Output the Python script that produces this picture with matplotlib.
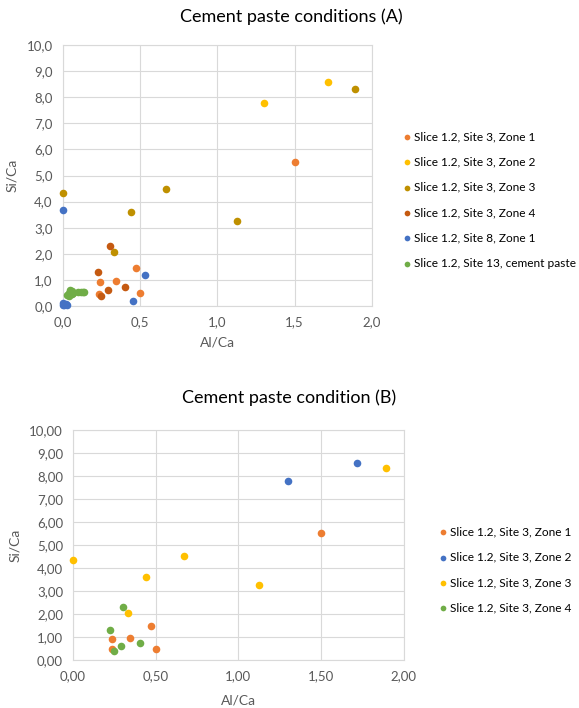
import matplotlib.pyplot as plt
from matplotlib.ticker import FuncFormatter, MultipleLocator

plt.rcParams['font.family'] = ['Lato', 'DejaVu Sans']

# Slice 1.2, Site 3, Zone 1..4
zone1_al = [1.50, 0.475, 0.24, 0.345, 0.235, 0.50]
zone1_si = [5.50, 1.47, 0.92, 0.95, 0.46, 0.49]
zone2_al = [1.30, 1.715]
zone2_si = [7.79, 8.57]
zone3_al = [0.0, 0.67, 0.445, 1.125, 0.335, 1.89]
zone3_si = [4.34, 4.50, 3.62, 3.24, 2.06, 8.33]
zone4_al = [0.306, 0.226, 0.293, 0.406, 0.25]
zone4_si = [2.31, 1.32, 0.61, 0.73, 0.37]
# Slice 1.2, Site 8, Zone 1
site8_al = [0.0, 0.531, 0.454, 0.0, 0.005, 0.012, 0.03, 0.02]
site8_si = [3.67, 1.17, 0.19, 0.10, 0.05, 0.03, 0.02, 0.06]
# Slice 1.2, Site 13, cement paste
site13_al = [0.03, 0.04, 0.05, 0.05, 0.06, 0.07, 0.06, 0.10, 0.12, 0.13, 0.14, 0.045]
site13_si = [0.42, 0.48, 0.55, 0.62, 0.58, 0.50, 0.45, 0.52, 0.55, 0.53, 0.54, 0.40]

labels_a = ['Slice 1.2, Site 3, Zone 1', 'Slice 1.2, Site 3, Zone 2', 'Slice 1.2, Site 3, Zone 3',
            'Slice 1.2, Site 3, Zone 4', 'Slice 1.2, Site 8, Zone 1', 'Slice 1.2, Site 13, cement paste']
colors_a = ['#ED7D31', '#FFC000', '#BF9000', '#C55A11', '#4472C4', '#70AD47']
labels_b = labels_a[:4]
colors_b = ['#ED7D31', '#4472C4', '#FFC000', '#70AD47']

series_a = [(zone1_al, zone1_si), (zone2_al, zone2_si), (zone3_al, zone3_si),
            (zone4_al, zone4_si), (site8_al, site8_si), (site13_al, site13_si)]
series_b = series_a[:4]

fig = plt.figure(figsize=(5.79, 7.08), dpi=100)


def style(ax, decimals):
    ax.set_xlim(0, 2)
    ax.set_ylim(0, 10)
    ax.xaxis.set_major_locator(MultipleLocator(0.5))
    ax.yaxis.set_major_locator(MultipleLocator(1))
    fmt = FuncFormatter(lambda v, p: f'{v:.{decimals}f}'.replace('.', ','))
    ax.xaxis.set_major_formatter(fmt)
    ax.yaxis.set_major_formatter(fmt)
    ax.grid(True, color='#D9D9D9', linewidth=0.8)
    ax.set_axisbelow(True)
    for s in ax.spines.values():
        s.set_color('#D9D9D9')
        s.set_linewidth(0.8)
    ax.tick_params(length=0, labelsize=9.5, colors='#595959', pad=7)
    ax.set_xlabel('Al/Ca', fontsize=10, color='#595959', labelpad=6)
    ax.set_ylabel('Si/Ca', fontsize=10, color='#595959', labelpad=6)


def legend(ax, x, y):
    ax.legend(loc='center left', bbox_to_anchor=(x, y), bbox_transform=fig.transFigure,
              frameon=False, fontsize=8.6, handletextpad=0.1, markerscale=0.75,
              labelspacing=1.2, borderpad=0, handlelength=1, borderaxespad=0)


# chart A
ax1 = fig.add_axes([0.108, 0.5678, 0.5345, 0.3686])
for (x, y), lab, c in zip(series_a, labels_a, colors_a):
    ax1.scatter(x, y, s=30, color=c, label=lab, clip_on=False, zorder=3, linewidths=0)
style(ax1, 1)
fig.text(0.5026, 0.976, 'Cement paste conditions (A)', fontsize=13, ha='center', va='center')
legend(ax1, 0.692, 0.7175)

# chart B
ax2 = fig.add_axes([0.1256, 0.0678, 0.572, 0.3249])
for (x, y), lab, c in zip(series_b, labels_b, colors_b):
    ax2.scatter(x, y, s=30, color=c, label=lab, clip_on=False, zorder=3, linewidths=0)
style(ax2, 2)
ax2.xaxis.labelpad = 9
fig.text(0.499, 0.4379, 'Cement paste condition (B)', fontsize=13, ha='center', va='center')
legend(ax2, 0.7544, 0.1949)

fig.savefig('out.png', dpi=100)
